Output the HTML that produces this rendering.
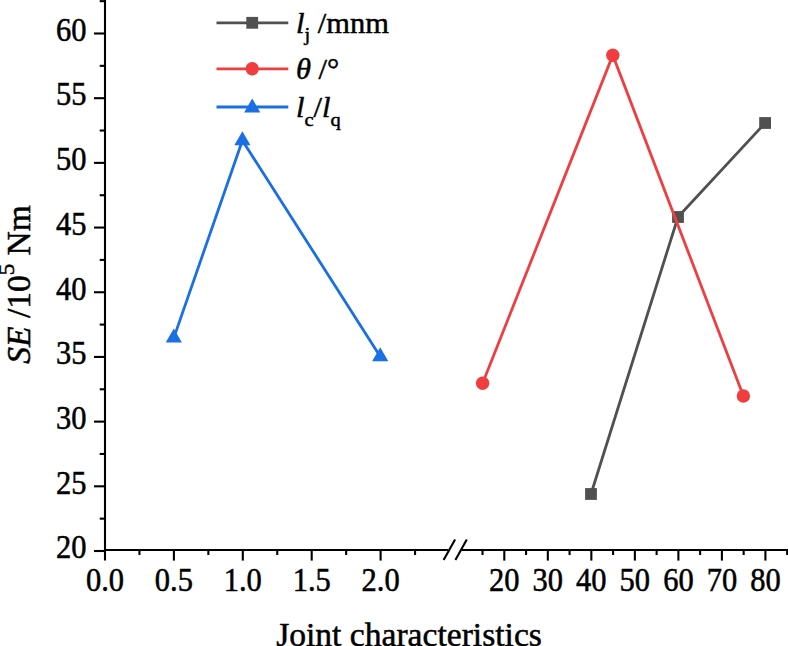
<!DOCTYPE html>
<html><head><meta charset="utf-8"><style>
html,body{margin:0;padding:0;background:#fff;}
svg{display:block;}
text{font-family:"Liberation Serif", serif;fill:#000;stroke:#000;stroke-width:0.5px;}
</style></head><body>
<svg width="788" height="646" viewBox="0 0 788 646">
<rect width="788" height="646" fill="#fff"/>
<line x1="105" y1="-2" x2="105" y2="560.6" stroke="#000" stroke-width="2.1"/>
<line x1="104" y1="550" x2="448.4" y2="550" stroke="#000" stroke-width="2.1"/>
<line x1="461.7" y1="550" x2="790" y2="550" stroke="#000" stroke-width="2.1"/>
<line x1="443.6" y1="560.1" x2="455.1" y2="539.5" stroke="#000" stroke-width="2.1"/>
<line x1="455.4" y1="560.1" x2="466.8" y2="539.5" stroke="#000" stroke-width="2.1"/>
<line x1="94" y1="551.00" x2="105" y2="551.00" stroke="#000" stroke-width="2.1"/>
<text transform="translate(86.50,558.30) scale(1,1.11)" font-size="30.5" text-anchor="end">20</text>
<line x1="99.7" y1="518.66" x2="105" y2="518.66" stroke="#000" stroke-width="2.1"/>
<line x1="94" y1="486.31" x2="105" y2="486.31" stroke="#000" stroke-width="2.1"/>
<text transform="translate(86.50,493.61) scale(1,1.11)" font-size="30.5" text-anchor="end">25</text>
<line x1="99.7" y1="453.97" x2="105" y2="453.97" stroke="#000" stroke-width="2.1"/>
<line x1="94" y1="421.62" x2="105" y2="421.62" stroke="#000" stroke-width="2.1"/>
<text transform="translate(86.50,428.93) scale(1,1.11)" font-size="30.5" text-anchor="end">30</text>
<line x1="99.7" y1="389.28" x2="105" y2="389.28" stroke="#000" stroke-width="2.1"/>
<line x1="94" y1="356.94" x2="105" y2="356.94" stroke="#000" stroke-width="2.1"/>
<text transform="translate(86.50,364.24) scale(1,1.11)" font-size="30.5" text-anchor="end">35</text>
<line x1="99.7" y1="324.59" x2="105" y2="324.59" stroke="#000" stroke-width="2.1"/>
<line x1="94" y1="292.25" x2="105" y2="292.25" stroke="#000" stroke-width="2.1"/>
<text transform="translate(86.50,299.55) scale(1,1.11)" font-size="30.5" text-anchor="end">40</text>
<line x1="99.7" y1="259.91" x2="105" y2="259.91" stroke="#000" stroke-width="2.1"/>
<line x1="94" y1="227.56" x2="105" y2="227.56" stroke="#000" stroke-width="2.1"/>
<text transform="translate(86.50,234.86) scale(1,1.11)" font-size="30.5" text-anchor="end">45</text>
<line x1="99.7" y1="195.22" x2="105" y2="195.22" stroke="#000" stroke-width="2.1"/>
<line x1="94" y1="162.88" x2="105" y2="162.88" stroke="#000" stroke-width="2.1"/>
<text transform="translate(86.50,170.18) scale(1,1.11)" font-size="30.5" text-anchor="end">50</text>
<line x1="99.7" y1="130.53" x2="105" y2="130.53" stroke="#000" stroke-width="2.1"/>
<line x1="94" y1="98.19" x2="105" y2="98.19" stroke="#000" stroke-width="2.1"/>
<text transform="translate(86.50,105.49) scale(1,1.11)" font-size="30.5" text-anchor="end">55</text>
<line x1="99.7" y1="65.84" x2="105" y2="65.84" stroke="#000" stroke-width="2.1"/>
<line x1="94" y1="33.50" x2="105" y2="33.50" stroke="#000" stroke-width="2.1"/>
<text transform="translate(86.50,40.80) scale(1,1.11)" font-size="30.5" text-anchor="end">60</text>
<line x1="99.7" y1="1.16" x2="105" y2="1.16" stroke="#000" stroke-width="2.1"/>
<line x1="139.45" y1="550" x2="139.45" y2="555" stroke="#000" stroke-width="2.1"/>
<line x1="173.90" y1="550" x2="173.90" y2="560.6" stroke="#000" stroke-width="2.1"/>
<line x1="208.35" y1="550" x2="208.35" y2="555" stroke="#000" stroke-width="2.1"/>
<line x1="242.80" y1="550" x2="242.80" y2="560.6" stroke="#000" stroke-width="2.1"/>
<line x1="277.25" y1="550" x2="277.25" y2="555" stroke="#000" stroke-width="2.1"/>
<line x1="311.70" y1="550" x2="311.70" y2="560.6" stroke="#000" stroke-width="2.1"/>
<line x1="346.15" y1="550" x2="346.15" y2="555" stroke="#000" stroke-width="2.1"/>
<line x1="380.60" y1="550" x2="380.60" y2="560.6" stroke="#000" stroke-width="2.1"/>
<line x1="415.05" y1="550" x2="415.05" y2="555" stroke="#000" stroke-width="2.1"/>
<text transform="translate(105.00,591.00) scale(1,1.11)" font-size="30.5" text-anchor="middle">0.0</text>
<text transform="translate(173.90,591.00) scale(1,1.11)" font-size="30.5" text-anchor="middle">0.5</text>
<text transform="translate(242.80,591.00) scale(1,1.11)" font-size="30.5" text-anchor="middle">1.0</text>
<text transform="translate(311.70,591.00) scale(1,1.11)" font-size="30.5" text-anchor="middle">1.5</text>
<text transform="translate(380.60,591.00) scale(1,1.11)" font-size="30.5" text-anchor="middle">2.0</text>
<line x1="482.54" y1="550" x2="482.54" y2="555" stroke="#000" stroke-width="2.1"/>
<line x1="504.30" y1="550" x2="504.30" y2="560.6" stroke="#000" stroke-width="2.1"/>
<text transform="translate(504.30,591.00) scale(1,1.11)" font-size="30.5" text-anchor="middle">20</text>
<line x1="526.06" y1="550" x2="526.06" y2="555" stroke="#000" stroke-width="2.1"/>
<line x1="547.82" y1="550" x2="547.82" y2="560.6" stroke="#000" stroke-width="2.1"/>
<text transform="translate(547.82,591.00) scale(1,1.11)" font-size="30.5" text-anchor="middle">30</text>
<line x1="569.58" y1="550" x2="569.58" y2="555" stroke="#000" stroke-width="2.1"/>
<line x1="591.34" y1="550" x2="591.34" y2="560.6" stroke="#000" stroke-width="2.1"/>
<text transform="translate(591.34,591.00) scale(1,1.11)" font-size="30.5" text-anchor="middle">40</text>
<line x1="613.10" y1="550" x2="613.10" y2="555" stroke="#000" stroke-width="2.1"/>
<line x1="634.86" y1="550" x2="634.86" y2="560.6" stroke="#000" stroke-width="2.1"/>
<text transform="translate(634.86,591.00) scale(1,1.11)" font-size="30.5" text-anchor="middle">50</text>
<line x1="656.62" y1="550" x2="656.62" y2="555" stroke="#000" stroke-width="2.1"/>
<line x1="678.38" y1="550" x2="678.38" y2="560.6" stroke="#000" stroke-width="2.1"/>
<text transform="translate(678.38,591.00) scale(1,1.11)" font-size="30.5" text-anchor="middle">60</text>
<line x1="700.14" y1="550" x2="700.14" y2="555" stroke="#000" stroke-width="2.1"/>
<line x1="721.90" y1="550" x2="721.90" y2="560.6" stroke="#000" stroke-width="2.1"/>
<text transform="translate(721.90,591.00) scale(1,1.11)" font-size="30.5" text-anchor="middle">70</text>
<line x1="743.66" y1="550" x2="743.66" y2="555" stroke="#000" stroke-width="2.1"/>
<line x1="765.42" y1="550" x2="765.42" y2="560.6" stroke="#000" stroke-width="2.1"/>
<text transform="translate(765.42,591.00) scale(1,1.11)" font-size="30.5" text-anchor="middle">80</text>
<line x1="787.18" y1="550" x2="787.18" y2="555" stroke="#000" stroke-width="2.1"/>
<polyline points="591,494 678,217 765.1,123" fill="none" stroke="#505050" stroke-width="2.8"/>
<rect x="585.10" y="488.10" width="11.8" height="11.8" fill="#505050"/>
<rect x="672.10" y="211.10" width="11.8" height="11.8" fill="#505050"/>
<rect x="759.20" y="117.10" width="11.8" height="11.8" fill="#505050"/>
<polyline points="482.6,383.3 612.8,55.2 743.4,396" fill="none" stroke="#ef3d40" stroke-width="2.8"/>
<circle cx="482.60" cy="383.30" r="6.7" fill="#ef3d40"/>
<circle cx="612.80" cy="55.20" r="6.7" fill="#ef3d40"/>
<circle cx="743.40" cy="396.00" r="6.7" fill="#ef3d40"/>
<polyline points="173.8,337.90 242.4,140.50 380.2,356.50" fill="none" stroke="#1a70e2" stroke-width="2.8"/>
<path d="M173.80 328.60 L181.90 342.60 L165.70 342.60 Z" fill="#1a70e2"/>
<path d="M242.40 131.20 L250.50 145.20 L234.30 145.20 Z" fill="#1a70e2"/>
<path d="M380.20 347.20 L388.30 361.20 L372.10 361.20 Z" fill="#1a70e2"/>
<line x1="216.5" y1="22.8" x2="288.3" y2="22.8" stroke="#505050" stroke-width="2.8"/>
<rect x="246.30" y="16.90" width="11.8" height="11.8" fill="#505050"/>
<line x1="216.5" y1="68.8" x2="288.3" y2="68.8" stroke="#ef3d40" stroke-width="2.8"/>
<circle cx="252.20" cy="68.80" r="6.7" fill="#ef3d40"/>
<line x1="216.5" y1="107" x2="288.3" y2="107" stroke="#1a70e2" stroke-width="2.8"/>
<path d="M252.20 98.50 L260.30 112.50 L244.10 112.50 Z" fill="#1a70e2"/>
<text transform="translate(296.00,32.60) scale(1,0.97)" font-size="30.5"><tspan font-style="italic">l</tspan><tspan font-size="20.5" dy="8.5">j</tspan><tspan dy="-8.5"> /mnm</tspan></text>
<text transform="translate(296.00,78.80) scale(1,0.97)" font-size="30.5"><tspan font-style="italic">θ</tspan> /°</text>
<text transform="translate(296.00,117.40) scale(1,0.97)" font-size="30.5"><tspan font-style="italic">l</tspan><tspan font-size="20.5" dy="8.5">c</tspan><tspan dy="-8.5">/</tspan><tspan font-style="italic">l</tspan><tspan font-size="20.5" dy="8.5">q</tspan></text>
<text transform="translate(29.60,363.70) rotate(-90) scale(1,1.0)" font-size="33.5"><tspan font-style="italic">SE</tspan> /10<tspan font-size="23" dy="-15.4">5</tspan><tspan dy="15.4"> Nm</tspan></text>
<text transform="translate(409.00,645.50) scale(1,1.0)" font-size="33.6" text-anchor="middle">Joint characteristics</text>
</svg>
</body></html>
